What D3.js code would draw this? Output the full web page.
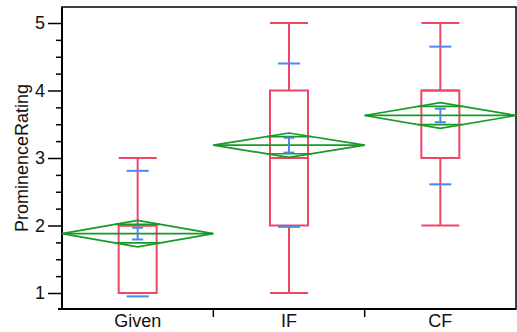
<!DOCTYPE html>
<html>
<head>
<meta charset="utf-8">
<script src="https://cdn.jsdelivr.net/npm/d3@7"></script>
<style>
  body { margin: 0; background: #fff; }
  text { font-family: "Liberation Sans", Arial, sans-serif; }
</style>
</head>
<body>
<div id="chart"></div>
<script>
// values
var groups  = ["Given", "IF", "CF"];
var mins    = [1, 1, 2];
var q1s     = [1, 2, 3];
var medians = [2, 3, 4];
var q3s     = [2, 4, 4];
var maxs    = [3, 5, 5];
var means   = [1.88, 3.19, 3.63];
var sds     = [0.93, 1.21, 1.02];
var ses     = [0.087, 0.11, 0.10];
var ciHalf  = [0.195, 0.18, 0.19];   // 95% CI half width (diamonds)
var yTicks  = [1, 2, 3, 4, 5];

var red = "#ee4766", green = "#179a26", blue = "#4a88ea";

var W = 517, H = 332;
var margin = {top: 7, right: 1, bottom: 23, left: 62};
var width = W - margin.left - margin.right,
    height = H - margin.top - margin.bottom;

var svg = d3.select("#chart").append("svg").attr("width", W).attr("height", H);
var g = svg.append("g").attr("transform", "translate(" + margin.left + "," + margin.top + ")");

var x = d3.scaleBand().domain(groups).range([0, width]);
var y = d3.scaleLinear().domain([0.763, 5.237]).range([height, 0]);

var data = groups.map(function(k, i) {
  return {k: k, min: mins[i], q1: q1s[i], med: medians[i], q3: q3s[i], max: maxs[i],
          mean: means[i], sd: sds[i], se: ses[i], ci: ciHalf[i]};
});

// frame
g.append("rect").attr("width", width).attr("height", height)
  .attr("fill", "none").attr("stroke", "#000").attr("stroke-width", 1.5);

// y axis: majors + minor ticks
var minor = d3.range(1, 5.01, 0.25).filter(function(v) { return v % 1 !== 0; });
g.append("g").call(d3.axisLeft(y).tickValues(minor).tickSize(6).tickFormat(""))
  .call(function(a) { a.select(".domain").remove(); a.selectAll("line").attr("stroke-width", 1.5); });
var yAxis = g.append("g").call(d3.axisLeft(y).tickValues(yTicks).tickSize(14).tickPadding(3).tickFormat(d3.format("d")));
yAxis.select(".domain").remove();
yAxis.selectAll("line").attr("stroke-width", 1.5);
yAxis.selectAll("text").attr("font-size", 18).attr("fill", "#111").attr("font-family", "Liberation Sans, Arial, sans-serif");
g.append("line").attr("x1", 0).attr("x2", 0).attr("y1", 0).attr("y2", height)
  .attr("stroke", "#000").attr("stroke-width", 2);

// x axis: separator ticks between groups, labels centred
var xAxis = g.append("g").attr("transform", "translate(0," + height + ")");
xAxis.append("line").attr("x1", -4).attr("x2", width).attr("stroke", "#000").attr("stroke-width", 2);
xAxis.selectAll(".sep").data(groups.slice(1)).enter().append("line")
  .attr("x1", function(d) { return x(d); }).attr("x2", function(d) { return x(d); })
  .attr("y1", 0).attr("y2", 8).attr("stroke", "#000").attr("stroke-width", 1.5);
xAxis.selectAll(".lab").data(groups).enter().append("text")
  .attr("x", function(d) { return x(d) + x.bandwidth() / 2; })
  .attr("y", 18).attr("text-anchor", "middle").attr("font-size", 18).attr("fill", "#111")
  .text(function(d) { return d; });

// y label
svg.append("text").attr("transform", "translate(28," + (margin.top + y(3)) + ") rotate(-90)")
  .attr("text-anchor", "middle").attr("font-size", 18).attr("fill", "#111")
  .text("ProminenceRating");

var boxW = 38, sdW = 22, seW = 11;
var grp = g.selectAll(".grp").data(data).enter().append("g")
  .attr("transform", function(d) { return "translate(" + (x(d.k) + x.bandwidth() / 2) + ",0)"; });

// box plot
grp.append("line").attr("y1", function(d) { return y(d.max); }).attr("y2", function(d) { return y(d.q3); })
  .attr("stroke", red).attr("stroke-width", 2);
grp.append("line").attr("y1", function(d) { return y(d.min); }).attr("y2", function(d) { return y(d.q1); })
  .attr("stroke", red).attr("stroke-width", 2);
grp.append("line").attr("x1", -boxW / 2).attr("x2", boxW / 2)
  .attr("y1", function(d) { return y(d.max); }).attr("y2", function(d) { return y(d.max); })
  .attr("stroke", red).attr("stroke-width", 2);
grp.append("line").attr("x1", -boxW / 2).attr("x2", boxW / 2)
  .attr("y1", function(d) { return y(d.min); }).attr("y2", function(d) { return y(d.min); })
  .attr("stroke", red).attr("stroke-width", 2);
grp.append("rect").attr("x", -boxW / 2).attr("width", boxW)
  .attr("y", function(d) { return y(d.q3); })
  .attr("height", function(d) { return y(d.q1) - y(d.q3); })
  .attr("fill", "none").attr("stroke", red).attr("stroke-width", 2);
grp.append("line").attr("x1", -boxW / 2).attr("x2", boxW / 2)
  .attr("y1", function(d) { return y(d.med); }).attr("y2", function(d) { return y(d.med); })
  .attr("stroke", red).attr("stroke-width", 2);

// std dev lines
[-1, 1].forEach(function(s) {
  grp.append("line").attr("x1", -sdW / 2).attr("x2", sdW / 2)
    .attr("y1", function(d) { return y(d.mean + s * d.sd); })
    .attr("y2", function(d) { return y(d.mean + s * d.sd); })
    .attr("stroke", blue).attr("stroke-width", 2);
});

// means diamonds
var half = x.bandwidth() / 2;
grp.append("path").attr("fill", "none").attr("stroke", green).attr("stroke-width", 1.7)
  .attr("d", function(d) {
    return "M" + (-half) + "," + y(d.mean) + "L0," + y(d.mean + d.ci) + "L" + half + "," + y(d.mean) +
      "L0," + y(d.mean - d.ci) + "Z";
  });
grp.append("line").attr("x1", -half).attr("x2", half)
  .attr("y1", function(d) { return y(d.mean); }).attr("y2", function(d) { return y(d.mean); })
  .attr("stroke", green).attr("stroke-width", 1.7);
var ov = Math.SQRT1_2;
[-1, 1].forEach(function(s) {
  grp.append("line").attr("x1", -half * (1 - ov)).attr("x2", half * (1 - ov))
    .attr("y1", function(d) { return y(d.mean + s * d.ci * ov); })
    .attr("y2", function(d) { return y(d.mean + s * d.ci * ov); })
    .attr("stroke", green).attr("stroke-width", 1.7);
});

// std error bars
grp.append("line").attr("y1", function(d) { return y(d.mean + d.se); }).attr("y2", function(d) { return y(d.mean - d.se); })
  .attr("stroke", blue).attr("stroke-width", 2);
[-1, 1].forEach(function(s) {
  grp.append("line").attr("x1", -seW / 2).attr("x2", seW / 2)
    .attr("y1", function(d) { return y(d.mean + s * d.se); })
    .attr("y2", function(d) { return y(d.mean + s * d.se); })
    .attr("stroke", blue).attr("stroke-width", 2);
});
</script>
</body>
</html>
